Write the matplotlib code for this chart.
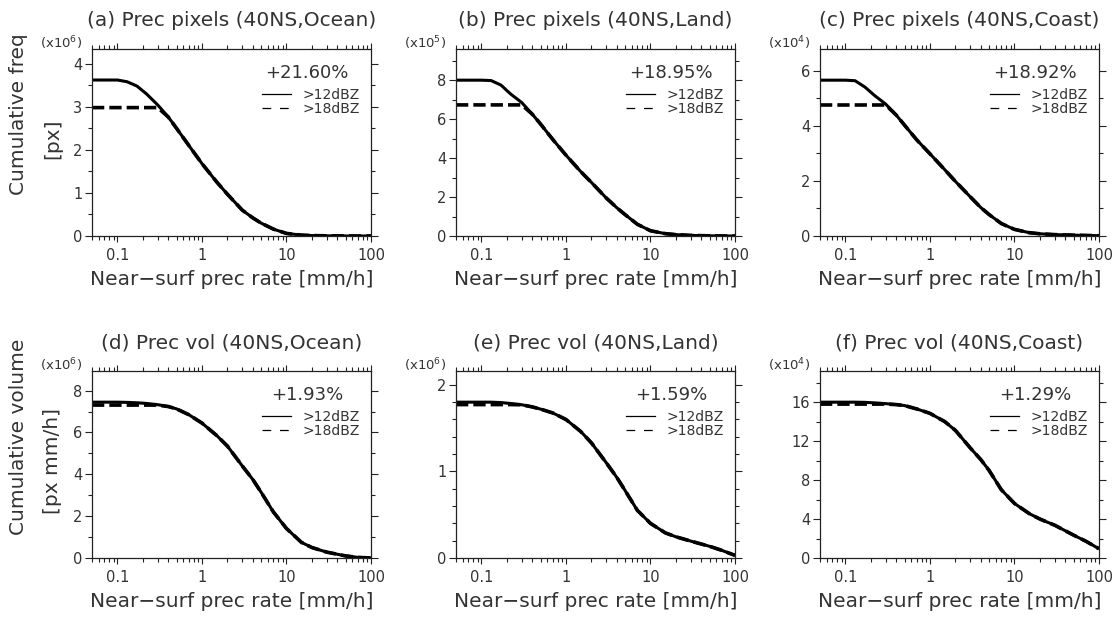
import numpy as np
import matplotlib.pyplot as plt
from matplotlib.ticker import LogLocator, NullFormatter, MultipleLocator
from matplotlib.lines import Line2D

plt.rcParams['font.family'] = ['DejaVu Sans']

# rain-rate thresholds [mm/h]
rate = [0.05, 0.1, 0.13, 0.17, 0.22, 0.3, 0.4, 0.5, 0.7, 1, 1.5, 2, 3, 4, 5, 7,
        10, 15, 20, 30, 50, 70, 100]

# cumulative pixels (a-c) and volume (d-f), >12dBZ and >18dBZ
pix_ocean_12 = [3.62, 3.62, 3.58, 3.48, 3.30, 3.04, 2.76, 2.50, 2.10, 1.68, 1.25, 0.97,
                0.60, 0.42, 0.30, 0.16, 0.06, 0.02, 0.01, 0.004, 0.001, 0.0, 0.0]
pix_ocean_18 = [2.98, 2.98, 2.98, 2.98, 2.98, 2.98, 2.76, 2.50, 2.10, 1.68, 1.25, 0.97,
                0.60, 0.42, 0.30, 0.16, 0.06, 0.02, 0.01, 0.004, 0.001, 0.0, 0.0]
pix_land_12 = [8.0, 8.0, 7.98, 7.75, 7.30, 6.85, 6.25, 5.75, 4.95, 4.15, 3.30, 2.75,
               1.95, 1.45, 1.10, 0.60, 0.27, 0.12, 0.07, 0.03, 0.01, 0.0, 0.0]
pix_land_18 = [6.73, 6.73, 6.73, 6.73, 6.73, 6.73, 6.25, 5.75, 4.95, 4.15, 3.30, 2.75,
               1.95, 1.45, 1.10, 0.60, 0.27, 0.12, 0.07, 0.03, 0.01, 0.0, 0.0]
pix_coast_12 = [5.65, 5.65, 5.63, 5.40, 5.10, 4.78, 4.38, 4.02, 3.48, 2.98, 2.40, 1.98,
                1.42, 1.03, 0.78, 0.45, 0.24, 0.12, 0.08, 0.05, 0.03, 0.02, 0.01]
pix_coast_18 = [4.75, 4.75, 4.75, 4.75, 4.75, 4.75, 4.38, 4.02, 3.48, 2.98, 2.40, 1.98,
                1.42, 1.03, 0.78, 0.45, 0.24, 0.12, 0.08, 0.05, 0.03, 0.02, 0.01]
vol_ocean_12 = [7.45, 7.45, 7.44, 7.42, 7.39, 7.33, 7.24, 7.13, 6.85, 6.45, 5.85, 5.35,
                4.40, 3.75, 3.15, 2.20, 1.41, 0.75, 0.50, 0.28, 0.10, 0.03, 0.0]
vol_ocean_18 = [7.31, 7.31, 7.31, 7.31, 7.31, 7.31, 7.24, 7.13, 6.85, 6.45, 5.85, 5.35,
                4.40, 3.75, 3.15, 2.20, 1.41, 0.75, 0.50, 0.28, 0.10, 0.03, 0.0]
vol_land_12 = [1.80, 1.80, 1.80, 1.795, 1.785, 1.77, 1.745, 1.72, 1.675, 1.60, 1.46, 1.33,
               1.10, 0.93, 0.78, 0.55, 0.40, 0.29, 0.245, 0.195, 0.135, 0.088, 0.03]
vol_land_18 = [1.772, 1.772, 1.772, 1.772, 1.772, 1.77, 1.745, 1.72, 1.675, 1.60, 1.46, 1.33,
               1.10, 0.93, 0.78, 0.55, 0.40, 0.29, 0.245, 0.195, 0.135, 0.088, 0.03]
vol_coast_12 = [16.0, 16.0, 16.0, 15.98, 15.93, 15.85, 15.75, 15.65, 15.3, 14.85, 14.0, 13.1,
                11.3, 10.1, 9.0, 7.0, 5.6, 4.55, 4.0, 3.36, 2.35, 1.72, 0.95]
vol_coast_18 = [15.8, 15.8, 15.8, 15.8, 15.8, 15.8, 15.75, 15.65, 15.3, 14.85, 14.0, 13.1,
                11.3, 10.1, 9.0, 7.0, 5.6, 4.55, 4.0, 3.36, 2.35, 1.72, 0.95]

titles = ['(a) Prec pixels (40NS,Ocean)', '(b) Prec pixels (40NS,Land)',
          '(c) Prec pixels (40NS,Coast)', '(d) Prec vol (40NS,Ocean)',
          '(e) Prec vol (40NS,Land)', '(f) Prec vol (40NS,Coast)']
percents = ['+21.60%', '+18.95%', '+18.92%', '+1.93%', '+1.59%', '+1.29%']
scales = [6, 5, 4, 6, 6, 4]
series = [(pix_ocean_12, pix_ocean_18), (pix_land_12, pix_land_18),
          (pix_coast_12, pix_coast_18), (vol_ocean_12, vol_ocean_18),
          (vol_land_12, vol_land_18), (vol_coast_12, vol_coast_18)]

ytop = [4.34, 9.6, 6.78, 8.94, 2.16, 19.2]
ystep = [1, 2, 2, 2, 1, 4]
yminor = [0.5, 1, 1, 1, 0.2, 2]
ylab = [('Cumulative freq', '[px]'), ('Cumulative volume', '[px mm/h]')]

txt = '#333333'
W, H = 1118, 619
lefts = [92, 456, 820]
bots = [236, 558]
aw, ah = 279, 187

fig = plt.figure(figsize=(W / 100, H / 100), dpi=100)

for i in range(6):
    r, c = i // 3, i % 3
    ax = fig.add_axes([lefts[c] / W, (H - bots[r]) / H, aw / W, ah / H])
    s12, s18 = series[i]
    ax.plot(rate, s12, color='k', lw=2.2, solid_capstyle='butt', solid_joinstyle='round')
    ax.plot(rate, s18, color='k', lw=2.6, dashes=(3.4, 1.4))
    ax.set_xscale('log')
    ax.set_xlim(0.05, 100)
    ax.set_ylim(0, ytop[i])
    ax.set_xticks([0.1, 1, 10, 100])
    ax.set_xticklabels(['0.1', '1', '10', '100'])
    ax.xaxis.set_minor_locator(LogLocator(base=10, subs=np.arange(2, 10), numticks=20))
    ax.xaxis.set_minor_formatter(NullFormatter())
    ax.yaxis.set_major_locator(MultipleLocator(ystep[i]))
    ax.yaxis.set_minor_locator(MultipleLocator(yminor[i]))
    ax.tick_params(which='both', direction='out', top=True, right=True,
                   width=0.8, color='#222222', labelcolor=txt, labelsize=10.5)
    ax.tick_params(which='major', length=4.5)
    ax.tick_params(which='minor', length=3)
    ax.tick_params(axis='y', which='major', length=5, pad=2)
    ax.tick_params(axis='x', which='major', pad=4)
    for sp in ax.spines.values():
        sp.set_linewidth(0.9)
        sp.set_color('#222222')

    ax.text(0.5, 1.15, titles[i], transform=ax.transAxes, ha='center', va='center',
            fontsize=14.5, color=txt)
    ax.text(-0.036, 1.03, r'(x10$^{%d}$)' % scales[i], transform=ax.transAxes,
            ha='right', va='center', fontsize=9.5, color=txt)
    ax.text(0.5, -0.235, 'Near\u2212surf prec rate [mm/h]', transform=ax.transAxes,
            ha='center', va='center', fontsize=14.5, color=txt)
    ax.text(0.77, 0.87, percents[i], transform=ax.transAxes, ha='center', va='center',
            fontsize=13, color=txt)

    handles = [Line2D([], [], color='k', lw=0.9),
               Line2D([], [], color='k', lw=0.9, dashes=(7, 7))]
    ax.legend(handles, ['>12dBZ', '>18dBZ'], loc='upper left', bbox_to_anchor=(0.61, 0.79),
              frameon=False, fontsize=10, handlelength=2.1, handletextpad=0.8,
              labelspacing=-0.05, borderpad=0, borderaxespad=0, labelcolor=txt)

    if c == 0:
        ax.text(-0.265, 0.65, ylab[r][0], transform=ax.transAxes, rotation=90,
                ha='center', va='center', fontsize=14.5, color=txt)
        ax.text(-0.14, 0.52, ylab[r][1], transform=ax.transAxes, rotation=90,
                ha='center', va='center', fontsize=14.5, color=txt)

fig.savefig('out.png', dpi=100)
